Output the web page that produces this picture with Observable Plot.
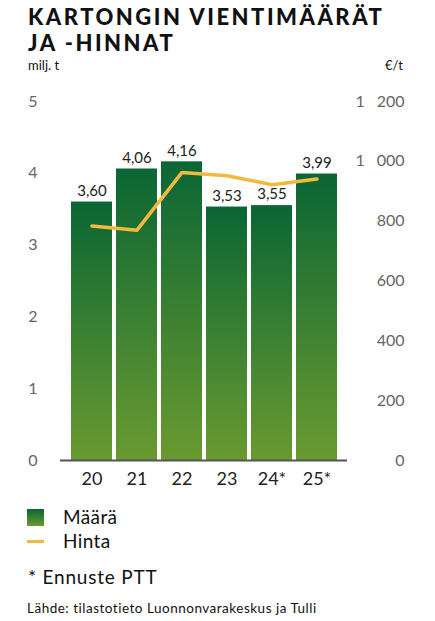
<!DOCTYPE html>
<html>
<head>
<meta charset="utf-8">
<script src="https://cdn.jsdelivr.net/npm/d3@7"></script>
<script src="https://cdn.jsdelivr.net/npm/@observablehq/plot@0.6"></script>
<style>
  html, body { margin: 0; padding: 0; background: #fff; }
  body { width: 435px; height: 621px; position: relative; overflow: hidden; font-family: Lato, "Open Sans", sans-serif; color: #111; }
  .title { position: absolute; left: 28px; font-weight: 900; font-size: 22px; line-height: 22px; letter-spacing: 2.5px; color: #111; white-space: nowrap; }
  #units { position: absolute; left: 28px; top: 57px; width: 375px; font-size: 13px; display: flex; justify-content: space-between; color: #111; }
  #chart { position: absolute; left: 0; top: 80px; }
  .leg { position: absolute; left: 27px; font-size: 19px; letter-spacing: 0.4px; color: #111; }
  #src { position: absolute; left: 27px; top: 600px; font-size: 13.5px; letter-spacing: 0.5px; color: #111; white-space: nowrap; }
</style>
</head>
<body>
<div class="title" style="top:6px">KARTONGIN VIENTIMÄÄRÄT</div>
<div class="title" style="top:32px">JA -HINNAT</div>
<div id="units"><span>milj. t</span><span>€/t</span></div>
<div id="chart"></div>
<div class="leg" style="top:505px"><span style="display:inline-block;width:17px;height:17px;background:linear-gradient(#0a6634,#6a9a30);vertical-align:-2px"></span><span style="margin-left:19px">Määrä</span></div>
<div class="leg" style="top:529px"><span style="display:inline-block;width:17px;height:3px;background:#f2b941;vertical-align:5px"></span><span style="margin-left:19px">Hinta</span></div>
<div class="leg" style="top:565px;left:28px;letter-spacing:0.8px">* Ennuste PTT</div>
<div id="src">Lähde: tilastotieto Luonnonvarakeskus ja Tulli</div>
<script>
const years = ["20", "21", "22", "23", "24*", "25*"];
const volumes = [3.60, 4.06, 4.16, 3.53, 3.55, 3.99];
const prices = [784, 770, 963, 952, 922, 941];
const leftTicks = [0, 1, 2, 3, 4, 5];
const rightTickLabels = ["0", "200", "400", "600", "800", "1\u2003000", "1\u2003200"];
const ratio = 240; // 1 unit of volume axis = 240 €/t

const data = years.map((y, i) => ({year: y, vol: volumes[i], price: prices[i]}));

const plot = Plot.plot({
  width: 435,
  height: 415,
  marginTop: 21,
  marginBottom: 35,
  marginLeft: 60,
  marginRight: 88,
  style: {fontFamily: "Lato, 'Open Sans', sans-serif", background: "transparent"},
  x: {domain: years, paddingInner: 0.1, paddingOuter: 0.2, label: null},
  y: {domain: [0, 5], label: null},
  marks: [
    Plot.barY(data, {x: "year", y: "vol", fill: "url(#barGrad)"}),
    Plot.ruleY([0], {stroke: "#555", strokeWidth: 2}),
    Plot.lineY(data, {x: "year", y: d => d.price / ratio, stroke: "#f2b941", strokeWidth: 3.5, curve: "linear"}),
    Plot.text(data, {x: "year", y: "vol", text: d => d.vol.toFixed(2).replace(".", ","), dy: -11, fontSize: 15, fill: "#222"}),
    Plot.axisX({tickSize: 0, tickPadding: 12, fontSize: 18, color: "#222", label: null}),
    Plot.axisY({anchor: "left", ticks: leftTicks, tickSize: 0, tickPadding: 23, fontSize: 16, color: "#666", label: null, tickFormat: d => String(d)}),
    Plot.axisY({anchor: "right", ticks: leftTicks.map(d => d * 200 / ratio).concat([5]), tickSize: 0, tickPadding: 57, textAnchor: "end", fontSize: 16, color: "#666", label: null,
      tickFormat: d => rightTickLabels[Math.round(d * ratio / 200)]})
  ]
});

const svg = d3.select(plot);
const defs = svg.insert("defs", ":first-child");
const g = defs.append("linearGradient").attr("id", "barGrad").attr("x1", 0).attr("y1", 0).attr("x2", 0).attr("y2", 1);
g.append("stop").attr("offset", "0%").attr("stop-color", "#0a6634");
g.append("stop").attr("offset", "100%").attr("stop-color", "#6a9a30");

document.getElementById("chart").appendChild(plot);
</script>
</body>
</html>
